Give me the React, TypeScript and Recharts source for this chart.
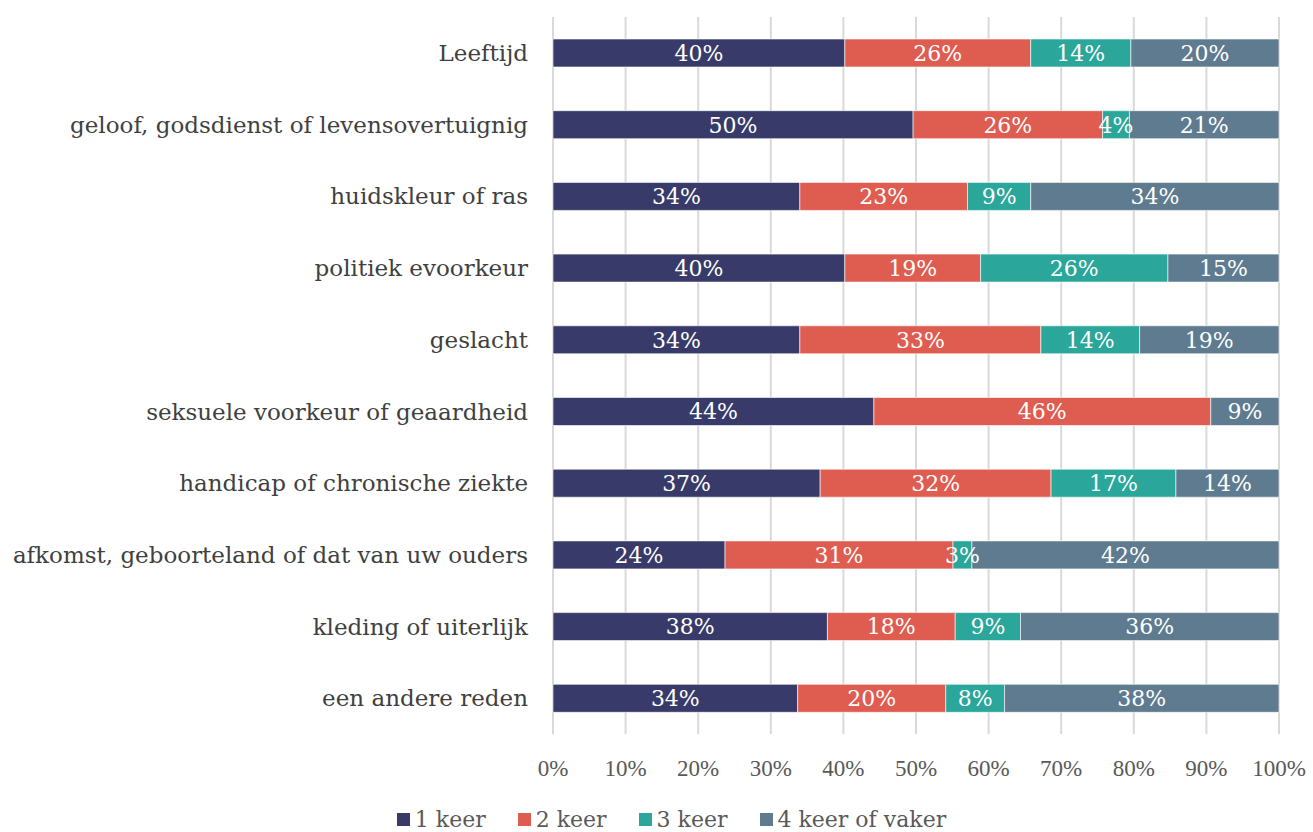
import React from "react";
import { BarChart, Bar, XAxis, YAxis, CartesianGrid, Legend, LabelList } from "recharts";

const categories = [
  "Leeftijd",
  "geloof, godsdienst of levensovertuignig",
  "huidskleur of ras",
  "politiek evoorkeur",
  "geslacht",
  "seksuele voorkeur of geaardheid",
  "handicap of chronische ziekte",
  "afkomst, geboorteland of dat van uw ouders",
  "kleding of uiterlijk",
  "een andere reden",
];
const keer1 = [40.2, 49.6, 34.0, 40.2, 34.0, 44.2, 36.8, 23.7, 37.8, 33.7];
const keer2 = [25.6, 26.1, 23.1, 18.7, 33.2, 46.4, 31.8, 31.4, 17.6, 20.4];
const keer3 = [13.8, 3.7, 8.7, 25.8, 13.6, 0, 17.2, 2.6, 9.0, 8.1];
const keer4 = [20.4, 20.6, 34.2, 15.3, 19.2, 9.4, 14.2, 42.3, 35.6, 37.8];
const seriesNames = ["1 keer", "2 keer", "3 keer", "4 keer of vaker"];
const xTicks = [0, 10, 20, 30, 40, 50, 60, 70, 80, 90, 100];

const colors = ["#383B69", "#DF5C50", "#2AA69A", "#5E7B8F"];
const FONT = "'DejaVu Serif', serif";
const TICKFONT = "'Liberation Serif', serif";

const data = categories.map((name, i) => ({
  name,
  s1: keer1[i],
  s2: keer2[i],
  s3: keer3[i],
  s4: keer4[i],
}));

const fmt = (v: any) => (v > 0 ? `${Math.round(Number(v))}%` : "");

const LegendContent = (props: any) => {
  const payload = props.payload || [];
  return (
    <div style={{ display: "flex", justifyContent: "center", alignItems: "center", fontFamily: FONT, fontSize: 22, color: "#595959", paddingTop: 15, paddingLeft: 64 }}>
      {payload.map((p: any, i: number) => (
        <div key={i} style={{ display: "flex", alignItems: "center", marginRight: i < payload.length - 1 ? 32 : 0 }}>
          <span style={{ display: "inline-block", width: 13, height: 13, background: p.color, marginRight: 5 }} />
          <span>{p.value}</span>
        </div>
      ))}
    </div>
  );
};

export default function App() {
  const keys = ["s1", "s2", "s3", "s4"];
  return (
    <div style={{ position: "absolute", left: 0, top: 0, width: 1313, height: 832, background: "#fff" }}>
      <BarChart
        width={1313}
        height={832}
        data={data}
        layout="vertical"
        margin={{ top: 17, right: 34, bottom: 0, left: 0 }}
        barSize={28}
      >
        <CartesianGrid horizontal={false} vertical={true} stroke="#d9d9d9" strokeWidth={2} />
        <XAxis
          type="number"
          domain={[0, 100]}
          ticks={xTicks}
          tickFormatter={(v: number) => `${v}%`}
          axisLine={false}
          tickLine={false}
          tickMargin={20}
          height={58}
          interval={0}
          tick={{ fill: "#595959", fontSize: 23, fontFamily: TICKFONT }}
        />
        <YAxis
          type="category"
          dataKey="name"
          width={553}
          axisLine={false}
          tickLine={false}
          tickMargin={19}
          interval={0}
          tick={{ fill: "#404040", fontSize: 23, fontFamily: FONT }}
        />
        <Legend verticalAlign="bottom" height={40} content={<LegendContent />} />
        {keys.map((k, i) => (
          <Bar
            key={k}
            dataKey={k}
            name={seriesNames[i]}
            stackId="a"
            fill={colors[i]}
            stroke="#ffffff"
            strokeOpacity={0.6}
            strokeWidth={1}
            isAnimationActive={false}
          >
            <LabelList dataKey={k} position="center" formatter={fmt} fill="#ffffff" fontSize={22} fontFamily={FONT} />
          </Bar>
        ))}
      </BarChart>
    </div>
  );
}
